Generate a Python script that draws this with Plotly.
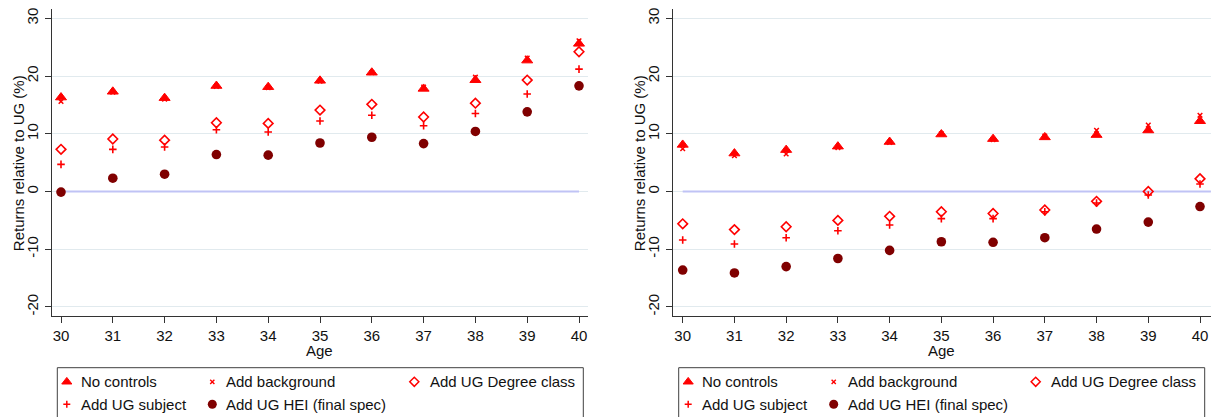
import plotly.graph_objects as go

# ---- data -------------------------------------------------------------
ages = [30, 31, 32, 33, 34, 35, 36, 37, 38, 39, 40]

# left panel
no_controls_l = [16.3, 17.3, 16.2, 18.3, 18.1, 19.2, 20.6, 17.8, 19.3, 22.7, 25.6]
background_l = [15.6, 17.2, 16.0, 18.2, 18.0, 19.1, 20.6, 18.1, 19.8, 23.1, 26.1]
degree_l = [7.3, 9.1, 8.9, 11.9, 11.8, 14.1, 15.1, 12.9, 15.3, 19.3, 24.2]
subject_l = [4.7, 7.3, 7.7, 10.7, 10.3, 12.2, 13.2, 11.4, 13.5, 16.9, 21.2]
hei_l = [-0.1, 2.3, 3.0, 6.4, 6.3, 8.4, 9.4, 8.3, 10.4, 13.8, 18.3]

# right panel
no_controls_r = [8.1, 6.6, 7.2, 7.8, 8.6, 9.9, 9.1, 9.4, 9.8, 10.6, 12.2]
background_r = [7.4, 6.2, 6.5, 7.6, 8.5, 10.0, 9.0, 9.6, 10.6, 11.5, 13.2]
degree_r = [-5.6, -6.6, -6.1, -5.0, -4.3, -3.5, -3.8, -3.2, -1.7, 0.0, 2.2]
subject_r = [-8.4, -9.1, -8.0, -6.8, -5.8, -4.7, -4.7, -3.5, -2.0, -0.6, 1.3]
hei_r = [-13.6, -14.1, -13.0, -11.6, -10.2, -8.7, -8.8, -8.0, -6.5, -5.3, -2.6]

y_ticks = [-20, -10, 0, 10, 20, 30]
series_names = ["No controls", "Add background", "Add UG Degree class",
                "Add UG subject", "Add UG HEI (final spec)"]

# ---- styling ----------------------------------------------------------
W, H = 1212, 417
FONT = "Arial, 'Liberation Sans', sans-serif"
RED = "#ff0000"
MAROON = "#800000"
GRID = "#e1eaee"
AXIS = "#333333"
REFLINE = "#c0c3f5"
TEXT = "#111111"

styles = [
    dict(symbol="triangle-up", size=9.6, color=RED, line=dict(width=1, color=RED)),
    dict(symbol="x-thin", size=4.6, color=RED, line=dict(width=1.5, color=RED)),
    dict(symbol="diamond-open", size=7.4, color=RED, line=dict(width=1.6, color=RED)),
    dict(symbol="cross-thin", size=5.4, color=RED, line=dict(width=1.6, color=RED)),
    dict(symbol="circle", size=9.6, color=MAROON, line=dict(width=0)),
]

legend_styles = [
    dict(symbol="triangle-up", size=8.8, color=RED, line=dict(width=1, color=RED)),
    dict(symbol="x-thin", size=4.2, color=RED, line=dict(width=1.4, color=RED)),
    dict(symbol="diamond-open", size=7.0, color=RED, line=dict(width=1.5, color=RED)),
    dict(symbol="cross-thin", size=5.0, color=RED, line=dict(width=1.5, color=RED)),
    dict(symbol="circle", size=9.0, color=MAROON, line=dict(width=0)),
]


def px(x):
    return x / W


def py(y):
    return 1 - y / H


fig = go.Figure()

panels = [
    dict(xa="x", ya="y", data=[no_controls_l, background_l, degree_l, subject_l, hei_l],
         ref_end=40.0, left=51.7, right=588.0, xr=[29.8205, 40.1737]),
    dict(xa="x2", ya="y2", data=[no_controls_r, background_r, degree_r, subject_r, hei_r],
         ref_end=40.21, left=672.7, right=1211.0, xr=[29.8067, 40.2126]),
]

top_px, bottom_px = 9.0, 316.0
yr = [-21.56, 31.61]

for p in panels:
    # reference line at zero
    fig.add_trace(go.Scatter(x=[ages[0], p["ref_end"]], y=[0, 0], mode="lines",
                             line=dict(color=REFLINE, width=2.2), showlegend=False,
                             hoverinfo="skip", xaxis=p["xa"], yaxis=p["ya"]))
    for name, vals, st in zip(series_names, p["data"], styles):
        fig.add_trace(go.Scatter(x=ages, y=vals, mode="markers", name=name,
                                 marker=st, showlegend=False, cliponaxis=False,
                                 xaxis=p["xa"], yaxis=p["ya"]))

axis_common = dict(showline=True, linecolor=AXIS, linewidth=1, ticks="outside",
                   ticklen=6, tickcolor=AXIS, tickwidth=1, zeroline=False,
                   tickfont=dict(family=FONT, size=15, color=TEXT))

layout = dict(
    width=W, height=H, autosize=False,
    margin=dict(l=0, r=0, t=0, b=0),
    paper_bgcolor="white", plot_bgcolor="rgba(0,0,0,0)",
    showlegend=False,
)

for i, p in enumerate(panels):
    sx = "" if i == 0 else "2"
    layout["xaxis" + sx] = dict(
        axis_common, domain=[px(p["left"]), px(p["right"])], range=p["xr"],
        anchor="y" + sx, tickmode="array", tickvals=ages, showgrid=False,
    )
    layout["yaxis" + sx] = dict(
        axis_common, domain=[py(bottom_px), py(top_px)], range=yr,
        anchor="x" + sx, tickmode="array", tickvals=y_ticks,
        ticktext=[str(v) for v in y_ticks], tickangle=-90,
        showgrid=True, gridcolor=GRID, gridwidth=1, ticklabelstandoff=1,
    )

# overlay axes in pixel units, used for the legend keys
layout["xaxis3"] = dict(domain=[0, 1], range=[0, W], visible=False, anchor="y3",
                        fixedrange=True)
layout["yaxis3"] = dict(domain=[0, 1], range=[H, 0], visible=False, anchor="x3",
                        fixedrange=True)

fig.update_layout(**layout)

annotations = []
shapes = []

# axis titles
for p in panels:
    cx = (p["left"] + p["right"]) / 2
    annotations.append(dict(text="Age", x=px(cx), y=py(350), xref="paper", yref="paper",
                            showarrow=False, xanchor="center", yanchor="middle",
                            font=dict(family=FONT, size=15, color=TEXT)))
    annotations.append(dict(text="Returns relative to UG (%)", x=px(p["left"] - 33),
                            y=py((top_px + bottom_px) / 2 + 1), xref="paper", yref="paper",
                            showarrow=False, textangle=-90, xanchor="center",
                            yanchor="middle",
                            font=dict(family=FONT, size=15, color=TEXT)))

# legend boxes: 3 columns x 2 rows
legend_layout = [  # (series index, column, row)
    (0, 0, 0), (1, 1, 0), (2, 2, 0), (3, 0, 1), (4, 1, 1),
]
sym_off = [9.5, 155.0, 357.0]
txt_off = [21.5, 167.0, 370.5]
row_y = [381.8, 404.3]

for p, box_left in zip(panels, [57.3, 678.7]):
    shapes.append(dict(type="rect", xref="paper", yref="paper",
                       x0=px(box_left), x1=px(box_left + 526), y0=py(367.7), y1=py(430),
                       line=dict(color="#404040", width=1), fillcolor="rgba(0,0,0,0)"))
    for idx, col, row in legend_layout:
        fig.add_trace(go.Scatter(x=[box_left + sym_off[col]], y=[row_y[row]], mode="markers",
                                 marker=legend_styles[idx], showlegend=False, hoverinfo="skip",
                                 cliponaxis=False, xaxis="x3", yaxis="y3"))
        annotations.append(dict(text=series_names[idx], x=px(box_left + txt_off[col]),
                                y=py(row_y[row]), xref="paper", yref="paper",
                                showarrow=False, xanchor="left", yanchor="middle",
                                font=dict(family=FONT, size=15, color=TEXT)))

fig.update_layout(annotations=annotations, shapes=shapes)
fig.write_html("out.html")
